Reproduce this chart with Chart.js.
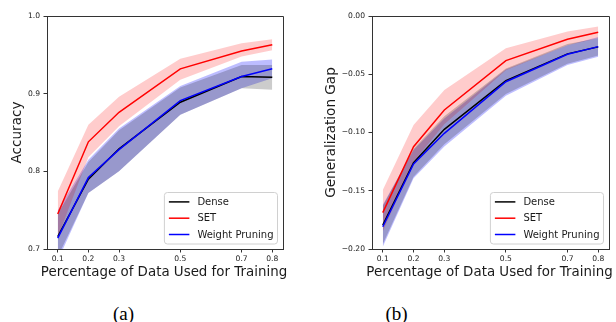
<!DOCTYPE html>
<html>
<head>
<meta charset="utf-8">
<script src="https://cdn.jsdelivr.net/npm/chart.js@4.4.1/dist/chart.umd.min.js"></script>
<style>
  html, body { margin: 0; padding: 0; background: #fff; }
  body { width: 616px; height: 322px; position: relative; overflow: hidden; }
  canvas { position: absolute; top: 0; }
  #ca { left: 0; }
  #cb { left: 310px; }
  .cap { position: absolute; top: 302px; font-family: "Liberation Serif", "Times New Roman", serif; font-size: 19px; font-weight: normal; color: #000; transform: translateX(-50%); line-height: 24px; }
</style>
</head>
<body>
<canvas id="ca" width="310" height="290"></canvas>
<canvas id="cb" width="306" height="290"></canvas>
<div class="cap" style="left:123.5px">(a)</div>
<div class="cap" style="left:396.5px">(b)</div>
<script>
// ---------- data ----------
const xValues = [0.1, 0.2, 0.3, 0.5, 0.7, 0.8];
const xTickLabels = ['0.1', '0.2', '0.3', '0.5', '0.7', '0.8'];
const seriesNames = ['Dense', 'SET', 'Weight Pruning'];
const xTitleText = 'Percentage of Data Used for Training';

// (a) Accuracy
const accDense      = [0.716, 0.790, 0.829, 0.889, 0.922, 0.921];
const accDenseLow   = [0.690, 0.772, 0.800, 0.873, 0.907, 0.905];
const accDenseHigh  = [0.745, 0.812, 0.853, 0.908, 0.937, 0.937];
const accSET        = [0.745, 0.838, 0.876, 0.932, 0.955, 0.963];
const accSETLow     = [0.715, 0.818, 0.858, 0.918, 0.948, 0.956];
const accSETHigh    = [0.774, 0.860, 0.896, 0.945, 0.965, 0.970];
const accWP         = [0.714, 0.792, 0.828, 0.891, 0.922, 0.932];
const accWPLow      = [0.685, 0.772, 0.800, 0.873, 0.907, 0.920];
const accWPHigh     = [0.750, 0.815, 0.855, 0.910, 0.941, 0.944];
const accYTicks      = [0.7, 0.8, 0.9, 1.0];
const accYTickLabels = ['0.7', '0.8', '0.9', '1.0'];

// (b) Generalization gap
const genDense      = [-0.1795, -0.126, -0.0973, -0.0555, -0.0325, -0.0265];
const genDenseLow   = [-0.196, -0.138, -0.110, -0.067, -0.041, -0.034];
const genDenseHigh  = [-0.163, -0.114, -0.086, -0.045, -0.024, -0.019];
const genSET        = [-0.1688, -0.1122, -0.0807, -0.0383, -0.020, -0.014];
const genSETLow     = [-0.185, -0.125, -0.093, -0.0465, -0.025, -0.019];
const genSETHigh    = [-0.1494, -0.0936, -0.0635, -0.0277, -0.0134, -0.009];
const genWP         = [-0.1809, -0.127, -0.1007, -0.0564, -0.0329, -0.0263];
const genWPLow      = [-0.198, -0.1393, -0.112, -0.0684, -0.042, -0.035];
const genWPHigh     = [-0.162, -0.115, -0.088, -0.046, -0.025, -0.018];
const genYTicks      = [-0.20, -0.15, -0.10, -0.05, 0.00];
const genYTickLabels = ['\u22120.20', '\u22120.15', '\u22120.10', '\u22120.05', '0.00'];

// ---------- helpers ----------
const lineColors = ['#000000', '#ff0000', '#0000ff'];
const bandColors = ['rgba(0,0,0,0.2)', 'rgba(255,0,0,0.2)', 'rgba(0,0,255,0.26)'];
const FONT = 'DejaVu Sans';

function pts(ys) { return xValues.map((x, i) => ({ x: x, y: ys[i] })); }

function buildDatasets(means, lows, highs) {
  const ds = [];
  for (let k = 0; k < 3; k++) {
    ds.push({ label: seriesNames[k] + ' low', data: pts(lows[k]), borderWidth: 0, borderColor: 'rgba(0,0,0,0)',
              pointRadius: 0, fill: false, order: 10 + k });
    ds.push({ label: seriesNames[k] + ' high', data: pts(highs[k]), borderWidth: 0, borderColor: 'rgba(0,0,0,0)',
              pointRadius: 0, fill: 2 * k, backgroundColor: bandColors[k], order: 10 + k });
  }
  for (let k = 0; k < 3; k++) {
    ds.push({ label: seriesNames[k], data: pts(means[k]), borderColor: lineColors[k], borderWidth: 1.5,
              pointRadius: 0, fill: false, order: 3 - k, tension: 0 });
  }
  return ds;
}

const framePlugin = {
  id: 'frame',
  afterDraw(chart) {
    const { ctx, chartArea: a } = chart;
    ctx.save();
    ctx.strokeStyle = '#333';
    ctx.lineWidth = 1;
    ctx.beginPath();
    ctx.moveTo(Math.round(a.left) + 0.5, Math.round(a.top) + 0.5);
    ctx.lineTo(Math.round(a.right) + 0.5, Math.round(a.top) + 0.5);
    ctx.lineTo(Math.round(a.right) + 0.5, Math.round(a.bottom) + 0.5);
    ctx.stroke();
    // x axis title (drawn without width compression)
    ctx.font = '13.4px "' + FONT + '"';
    ctx.fillStyle = '#1a1a1a';
    ctx.textAlign = 'center';
    ctx.textBaseline = 'middle';
    ctx.fillText(xTitleText, (a.left + a.right) / 2 - 1, 272.5);
    ctx.restore();
  }
};

const legendPlugin = {
  id: 'boxLegend',
  afterDraw(chart) {
    const { ctx, chartArea: a } = chart;
    ctx.save();
    ctx.font = '10px "' + FONT + '"';
    let tw = 0;
    seriesNames.forEach(n => { tw = Math.max(tw, ctx.measureText(n).width); });
    const boxW = 4 + 20 + 8 + tw + 5;
    const boxH = 51.5;
    const bx = a.right - 5.5 - boxW;
    const by = a.bottom - 5 - boxH;
    const r = 3;
    ctx.beginPath();
    ctx.moveTo(bx + r, by);
    ctx.lineTo(bx + boxW - r, by);
    ctx.quadraticCurveTo(bx + boxW, by, bx + boxW, by + r);
    ctx.lineTo(bx + boxW, by + boxH - r);
    ctx.quadraticCurveTo(bx + boxW, by + boxH, bx + boxW - r, by + boxH);
    ctx.lineTo(bx + r, by + boxH);
    ctx.quadraticCurveTo(bx, by + boxH, bx, by + boxH - r);
    ctx.lineTo(bx, by + r);
    ctx.quadraticCurveTo(bx, by, bx + r, by);
    ctx.closePath();
    ctx.fillStyle = 'rgba(255,255,255,0.8)';
    ctx.fill();
    ctx.strokeStyle = '#d0d0d0';
    ctx.lineWidth = 1;
    ctx.stroke();
    const rows = [9.4, 25.7, 42.0];
    seriesNames.forEach((n, k) => {
      const y = by + rows[k];
      ctx.strokeStyle = lineColors[k];
      ctx.lineWidth = 1.5;
      ctx.beginPath();
      ctx.moveTo(bx + 4.5, y);
      ctx.lineTo(bx + 25, y);
      ctx.stroke();
      ctx.fillStyle = '#1a1a1a';
      ctx.textBaseline = 'middle';
      ctx.textAlign = 'left';
      ctx.fillText(n, bx + 33, y + 0.5);
    });
    ctx.restore();
  }
};

function makeChart(id, cfg) {
  const ctx = document.getElementById(id).getContext('2d');
  return new Chart(ctx, {
    type: 'line',
    data: { datasets: buildDatasets(cfg.means, cfg.lows, cfg.highs) },
    options: {
      responsive: false,
      animation: false,
      devicePixelRatio: 1,
      layout: { padding: { top: 16, right: cfg.padRight, left: 0, bottom: 0 } },
      plugins: {
        legend: { display: false },
        tooltip: { enabled: false },
        filler: { drawTime: 'beforeDatasetsDraw', propagate: false }
      },
      scales: {
        x: {
          type: 'linear',
          min: 0.065, max: 0.835,
          afterBuildTicks: s => { s.ticks = xValues.map(v => ({ value: v })); },
          afterFit: s => { s.height = 41; },
          ticks: {
            autoSkip: false, maxRotation: 0, padding: 2,
            font: { family: FONT, size: 7.6 }, color: '#222',
            callback: (v) => { const i = xValues.findIndex(x => Math.abs(x - v) < 1e-9); return i >= 0 ? xTickLabels[i] : ''; }
          },
          grid: { display: true, drawOnChartArea: false, drawTicks: true, tickLength: 3.5, color: '#333', tickWidth: 1 },
          border: { display: true, color: '#333', width: 1 },
          title: { display: false }
        },
        y: {
          min: cfg.yMin, max: cfg.yMax,
          afterBuildTicks: s => { s.ticks = cfg.yTicks.map(v => ({ value: v })); },
          afterFit: s => { s.width = cfg.yWidth; },
          ticks: {
            autoSkip: false, padding: 3.5,
            font: { family: FONT, size: 7.6 }, color: '#222',
            callback: (v) => { const i = cfg.yTicks.findIndex(t => Math.abs(t - v) < 1e-9); return i >= 0 ? cfg.yTickLabels[i] : ''; }
          },
          grid: { display: true, drawOnChartArea: false, drawTicks: true, tickLength: 3.5, color: '#333', tickWidth: 1 },
          border: { display: true, color: '#333', width: 1 },
          title: { display: true, text: cfg.yTitle, font: { family: FONT, size: 13.6 }, color: '#1a1a1a', padding: { top: cfg.yTitlePad, bottom: 0 } }
        }
      }
    },
    plugins: [framePlugin, legendPlugin]
  });
}

makeChart('ca', {
  means: [accDense, accSET, accWP],
  lows: [accDenseLow, accSETLow, accWPLow],
  highs: [accDenseHigh, accSETHigh, accWPHigh],
  yMin: 0.7, yMax: 1.0, yTicks: accYTicks, yTickLabels: accYTickLabels,
  yTitle: 'Accuracy', yWidth: 47, yTitlePad: 9, padRight: 27
});

makeChart('cb', {
  means: [genDense, genSET, genWP],
  lows: [genDenseLow, genSETLow, genWPLow],
  highs: [genDenseHigh, genSETHigh, genWPHigh],
  yMin: -0.20, yMax: 0.00, yTicks: genYTicks, yTickLabels: genYTickLabels,
  yTitle: 'Generalization Gap', yWidth: 62, yTitlePad: 13, padRight: 7
});
</script>
</body>
</html>
